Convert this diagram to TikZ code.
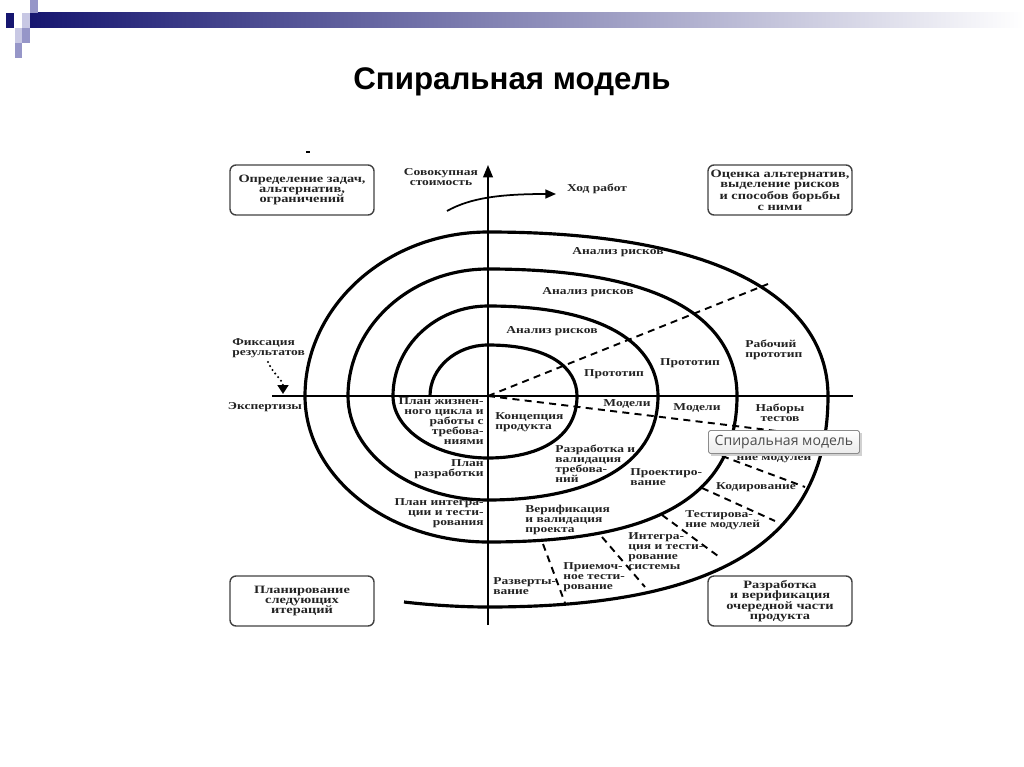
\documentclass[tikz,border=0pt]{standalone}
\usepackage{fontspec}
\setmainfont{Liberation Serif}
\newfontfamily\dfont[FakeStretch=1.28]{Liberation Serif}
\newfontfamily\titlefont{Liberation Sans}
\newfontfamily\tipfont{Open Sans}
\usetikzlibrary{arrows.meta}
\definecolor{navy}{RGB}{22,22,112}
\definecolor{lav}{RGB}{200,200,228}
\definecolor{lav2}{RGB}{150,150,200}
\definecolor{txt}{RGB}{35,35,35}
\tikzset{
 lbl/.style={font=\dfont\bfseries\fontsize{6}{5.7}\selectfont, text=txt, inner sep=0pt},
 lblL/.style={lbl, anchor=north west, align=left},
 lblR/.style={lbl, anchor=north east, align=right},
 lblC/.style={lbl, align=center},
 cornerbox/.style={draw=black!75, line width=0.8pt, rounded corners=0.12cm, minimum width=2.88cm, minimum height=1cm, font=\dfont\bfseries\fontsize{6.4}{5.9}\selectfont, text=txt, align=center, inner sep=0pt},
 spiral/.style={line width=1.8pt, black, line join=round},
 axisline/.style={line width=1pt, black},
 dline/.style={line width=1.1pt, dash pattern=on 4pt off 3pt},
}
\begin{document}
\begin{tikzpicture}[x=0.02cm, y=-0.02cm]
\useasboundingbox (0,0) rectangle (1024,767);
% header decoration
\shade[left color=navy, middle color=lav2!80!gray, right color=white] (30,13) rectangle (1024,28);
\fill[navy] (6,13) rectangle (14,28);
\fill[lav] (22,13) rectangle (30,28);
\fill[lav2] (30,0) rectangle (38,13);
\fill[lav] (15,28) rectangle (22,43);
\fill[lav2] (22,28) rectangle (30,43);
\fill[lav2] (15,43) rectangle (22,58);
% title
\node[font=\titlefont\bfseries\fontsize{17.8}{20}\selectfont, anchor=base] (title) at (512,90) {Спиральная модель};
% corner boxes
\node[cornerbox] (b1) at (302,190) {Определение задач,\\альтернатив,\\ограничений};
\node[cornerbox] (b2) at (780,190) {Оценка альтернатив,\\выделение рисков\\и способов борьбы\\с ними};
\node[cornerbox] (b3) at (302,601) {Планирование\\следующих\\итераций};
\node[cornerbox] (b4) at (780,601) {Разработка\\и верификация\\очередной части\\продукта};
\draw[line width=0.9pt] (306,152) -- (310,152);
% axes
\coordinate (O) at (488,396);
\coordinate (ytop) at (488,165);
\coordinate (ybot) at (488,625);
\coordinate (xl) at (272,396);
\coordinate (xr) at (853,396);
\draw[axisline, -{Triangle[length=7pt,width=5.5pt]}] (ybot) -- (ytop);
\draw[line width=0.8pt] (xl) -- (xr);
% spiral
\draw[spiral] (430,396) .. controls (430,368) and (456,345) .. (488,345)
 .. controls (550,345) and (577,368) .. (577,396)
 .. controls (577,439) and (537,458) .. (488,458)
 .. controls (436,458) and (393,430) .. (393,396)
 .. controls (393,346) and (436,306) .. (488,306)
 .. controls (607,306) and (658,346) .. (658,396)
 .. controls (658,469) and (582,500) .. (488,500)
 .. controls (411,500) and (348,453) .. (348,396)
 .. controls (348,326) and (411,269) .. (488,269)
 .. controls (675,269) and (737,326) .. (737,396)
 .. controls (737,513) and (625,542) .. (488,542)
 .. controls (387,542) and (305,476) .. (305,396)
 .. controls (305,306) and (387,232) .. (488,232)
 .. controls (733,232) and (828,306) .. (828,396)
 .. controls (828,565) and (675,607) .. (488,607)
 .. controls (460,607) and (430,605) .. (404,602);
% progress arrow
\coordinate (h1) at (447,211);
\coordinate (h2) at (556,194);
\draw[line width=1pt, -{Triangle[length=6pt,width=5pt]}] (h1) .. controls (470,198) and (500,194) .. (h2);
% dashed lines
\draw[dline] (O) -- (768,284);
\draw[dline] (O) -- (826,437);
\draw[dline] (722,456) -- (805,487);
\draw[dline] (702,488) -- (775,521);
\draw[dline] (662,515) -- (718,556);
\draw[dline] (602,537) -- (645,587);
\draw[dline] (543,544) -- (565,603);
% fixation arrow
\coordinate (f1) at (268,362);
\coordinate (f2) at (283,394);
\draw[line width=1.3pt, line cap=round, dash pattern=on 0pt off 2.6pt, -{Triangle[length=5pt,width=6pt]}] (f1) .. controls (273,374) and (283,380) .. (f2);
% labels
\node[lblC] (l1) at (441,177) {Совокупная\\стоимость};
\node[lblC] (l2) at (597,189) {Ход работ};
\node[lblL] (l3) at (232,338) {Фиксация\\результатов};
\node[lblC] (l4) at (265,407) {Экспертизы};
\node[lblC] (ar1) at (552,331) {Анализ рисков};
\node[lblC] (ar2) at (588,292) {Анализ рисков};
\node[lblC] (ar3) at (618,252) {Анализ рисков};
\node[lblC] (p1) at (614,374) {Прототип};
\node[lblC] (p2) at (690,363) {Прототип};
\node[lblL] (p3) at (745,340) {Рабочий\\прототип};
\node[lblC] (m1) at (627,404) {Модели};
\node[lblC] (m2) at (697,408) {Модели};
\node[lblC] (m3) at (780,413) {Наборы\\тестов};
\node[lblR] (pl1) at (484,397) {План жизнен-\\ного цикла и\\работы с\\требова-\\ниями};
\node[lblR] (pl2) at (484,459) {План\\разработки};
\node[lblR] (pl3) at (484,498) {План интегра-\\ции и тести-\\рования};
\node[lblL] (c1) at (495,412) {Концепция\\продукта};
\node[lblL] (c2) at (555,445) {Разработка и\\валидация\\требова-\\ний};
\node[lblL] (c3) at (630,468) {Проектиро-\\вание};
\node[lblL] (c4) at (525,505) {Верификация\\и валидация\\проекта};
\node[lblC] (c5) at (774,458) {ние модулей};
\node[lblC] (c6) at (756,487) {Кодирование};
\node[lblL] (c7) at (685,510) {Тестирова-\\ние модулей};
\node[lblL] (c8) at (628,532) {Интегра-\\ция и тести-\\рование\\системы};
\node[lblL] (c9) at (563,562) {Приемоч-\\ное тести-\\рование};
\node[lblL] (c10) at (493,577) {Разверты-\\вание};
% tooltip
\fill[black!18] (711,433) rectangle (862,456);
\node[draw=black!45, line width=0.5pt, rounded corners=1pt, top color=white, bottom color=black!8, minimum width=3.02cm, minimum height=0.46cm, inner sep=0pt, font=\tipfont\fontsize{8}{9}\selectfont, text=black!70] (tip) at (784,442) {Спиральная модель};
\end{tikzpicture}
\end{document}
